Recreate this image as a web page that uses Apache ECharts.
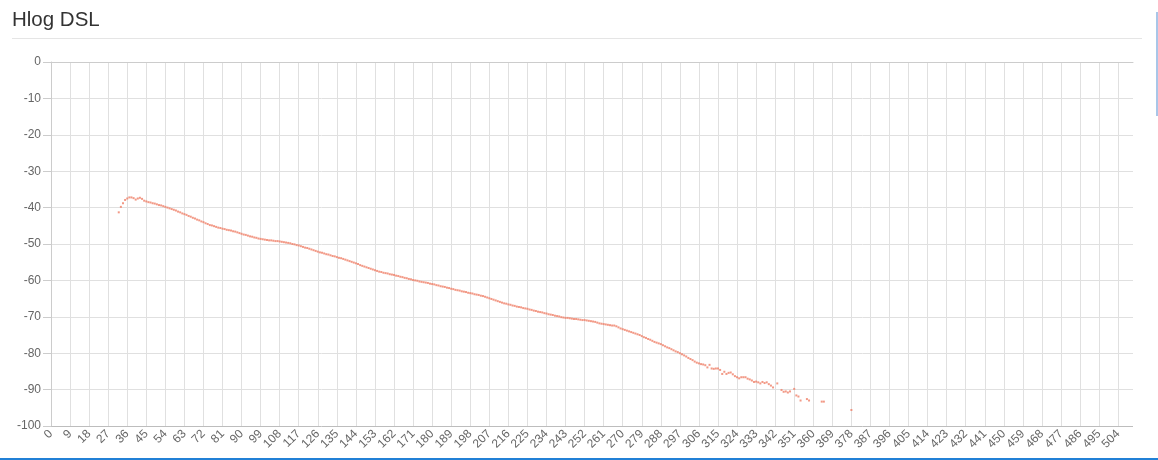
<!DOCTYPE html>
<html>
<head>
<meta charset="utf-8">
<script src="https://cdn.jsdelivr.net/npm/echarts@6/dist/echarts.min.js"></script>
<style>
html,body{margin:0;padding:0;background:#fff;overflow:hidden;}
#wrap{position:relative;width:1158px;height:460px;}
#title{position:absolute;left:12px;top:8px;font-family:'Liberation Sans',Arial,sans-serif;font-size:20.5px;line-height:21px;color:#333;white-space:nowrap;}
#rule{position:absolute;left:12px;top:38px;width:1130px;height:1px;background:#e5e5e5;}
#chart{position:absolute;left:0;top:0;width:1158px;height:460px;}
#scroll{position:absolute;left:1156px;top:12px;width:2px;height:104px;background:#a9c6e8;}
#bottombar{position:absolute;left:0;top:458px;width:1158px;height:2px;background:#2180d6;}
</style>
</head>
<body>
<div id="wrap">
  <div id="chart"></div>
  <div id="title">Hlog DSL</div>
  <div id="rule"></div>
  <div id="scroll"></div>
  <div id="bottombar"></div>
</div>
<script>
// ---- data ----
const titleText = 'Hlog DSL';
const toneCount = 512;
const categories = [];
for (let i = 0; i < toneCount; i++) categories.push(String(i));

const yTicks = [0, -10, -20, -30, -40, -50, -60, -70, -80, -90, -100];

const startTone = 32;
const hlogValues = [
  // 32..45
  -41.3, -39.8, -38.8, -37.9, -37.5, -37.2, -37.2, -37.4, -37.8, -37.5, -37.3, -37.6, -38.1, -38.3,
  // 46..55
  -38.5, -38.6, -38.8, -38.9, -39.1, -39.3, -39.4, -39.6, -39.8, -40.0,
  // 56..65
  -40.2, -40.4, -40.6, -40.8, -41.1, -41.3, -41.6, -41.8, -42.0, -42.3,
  // 66..75
  -42.5, -42.8, -43.0, -43.3, -43.5, -43.8, -44.0, -44.3, -44.5, -44.8,
  // 76..85
  -44.9, -45.1, -45.3, -45.5, -45.6, -45.8, -45.9, -46.1, -46.2, -46.3,
  // 86..95
  -46.5, -46.6, -46.8, -47.0, -47.2, -47.4, -47.5, -47.7, -47.9, -48.0,
  // 96..105
  -48.2, -48.3, -48.5, -48.6, -48.7, -48.8, -48.9, -49.0, -49.0, -49.1,
  // 106..115
  -49.2, -49.2, -49.3, -49.4, -49.5, -49.6, -49.7, -49.8, -50.0, -50.1,
  // 116..125
  -50.3, -50.4, -50.6, -50.8, -51.0, -51.1, -51.3, -51.5, -51.7, -51.9,
  // 126..135
  -52.1, -52.3, -52.4, -52.6, -52.8, -52.9, -53.1, -53.3, -53.4, -53.6,
  // 136..145
  -53.8, -53.9, -54.1, -54.3, -54.5, -54.7, -54.9, -55.1, -55.3, -55.5,
  // 146..155
  -55.8, -56.0, -56.2, -56.4, -56.6, -56.8, -57.0, -57.2, -57.4, -57.6,
  // 156..165
  -57.7, -57.9, -58.0, -58.1, -58.3, -58.4, -58.5, -58.7, -58.8, -59.0,
  // 166..175
  -59.1, -59.3, -59.4, -59.6, -59.7, -59.9, -60.0, -60.1, -60.3, -60.4,
  // 176..185
  -60.5, -60.6, -60.7, -60.9, -61.0, -61.1, -61.3, -61.4, -61.6, -61.7,
  // 186..195
  -61.8, -62.0, -62.1, -62.3, -62.4, -62.6, -62.7, -62.8, -63.0, -63.1,
  // 196..205
  -63.2, -63.4, -63.5, -63.6, -63.8, -63.9, -64.0, -64.2, -64.3, -64.5,
  // 206..215
  -64.7, -64.9, -65.1, -65.3, -65.5, -65.7, -65.9, -66.1, -66.3, -66.4,
  // 216..225
  -66.6, -66.7, -66.9, -67.0, -67.2, -67.3, -67.4, -67.6, -67.7, -67.8,
  // 226..235
  -68.0, -68.1, -68.3, -68.4, -68.6, -68.7, -68.8, -69.0, -69.1, -69.3,
  // 236..245
  -69.4, -69.5, -69.7, -69.8, -69.9, -70.1, -70.2, -70.3, -70.3, -70.4,
  // 246..255
  -70.5, -70.6, -70.6, -70.7, -70.8, -70.9, -70.9, -71.0, -71.1, -71.2,
  // 256..265
  -71.3, -71.4, -71.6, -71.8, -71.9, -72.0, -72.1, -72.2, -72.3, -72.4,
  // 266..275
  -72.4, -72.6, -72.9, -73.2, -73.4, -73.6, -73.8, -74.0, -74.2, -74.4,
  // 276..285
  -74.6, -74.8, -75.0, -75.3, -75.6, -75.8, -76.1, -76.3, -76.6, -76.9,
  // 286..295
  -77.1, -77.3, -77.5, -77.8, -78.1, -78.4, -78.6, -78.9, -79.2, -79.5,
  // 296..305
  -79.7, -80.0, -80.3, -80.6, -80.9, -81.3, -81.6, -81.9, -82.3, -82.6,
  // 306..315
  -82.8, -83.0, -83.1, -83.3, -83.9, -83.2, -84.2, -84.3, -84.2, -84.2,
  // 316..325
  -84.6, -85.7, -85.1, -85.7, -85.4, -85.3, -85.8, -86.3, -86.6, -86.9,
  // 326..335
  -86.6, -86.6, -86.6, -87.0, -87.2, -87.5, -87.9, -87.8, -88.0, -88.3,
  // 336..345
  -87.9, -88.2, -88.0, -88.5, -88.9, -89.4, null, -88.3, null, -90.1,
  // 346..355
  -90.6, -90.5, -90.8, -90.5, null, -89.8, -91.6, -91.9, -93.0, null,
  // 356..365
  null, -92.6, -93.0, null, null, null, null, null, -93.3, -93.3,
  // 366..378
  null, null, null, null, null, null, null, null, null, null, null, null, -95.6
];

// ---- chart ----
const chart = echarts.init(document.getElementById('chart'), null, {renderer: 'canvas'});
const points = [];
hlogValues.forEach((v, k) => { if (v !== null) points.push([startTone + k, v]); });

const splitColors = yTicks.slice().reverse().map((t, i, a) => (i === 0 || i === a.length - 1) ? '#bdbdbd' : '#e0e0e0');

chart.setOption({
  animation: false,
  textStyle: {fontFamily: "'Liberation Sans', Arial, sans-serif"},
  grid: {left: 51, right: 25, top: 62, bottom: 34, containLabel: false},
  xAxis: {
    type: 'category',
    data: categories,
    boundaryGap: false,
    axisLine: {show: true, lineStyle: {color: '#cccccc'}},
    axisTick: {show: false},
    axisLabel: {interval: 8, rotate: 45, color: '#666', fontSize: 12, margin: 6},
    splitLine: {show: true, interval: 8, lineStyle: {color: '#e0e0e0'}}
  },
  yAxis: {
    type: 'value',
    min: -100,
    max: 0,
    interval: 10,
    axisLine: {show: true, lineStyle: {color: '#cccccc'}},
    axisTick: {show: true, length: 8, lineStyle: {color: '#cccccc'}},
    axisLabel: {color: '#666', fontSize: 12, margin: 10},
    splitLine: {show: true, lineStyle: {color: splitColors}}
  },
  series: [{
    name: titleText,
    type: 'scatter',
    data: points,
    symbol: 'rect',
    symbolSize: 2,
    itemStyle: {color: '#ef7f68', opacity: 0.8}
  }]
});
</script>
</body>
</html>
